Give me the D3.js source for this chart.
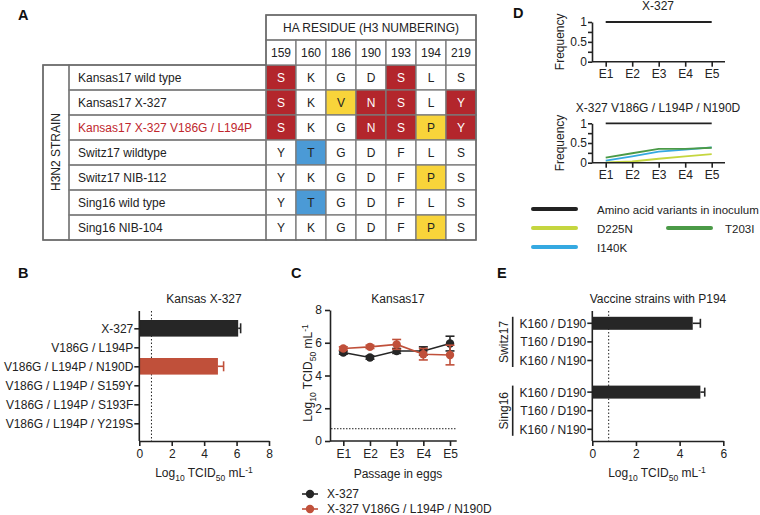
<!DOCTYPE html>
<html>
<head>
<meta charset="utf-8">
<script src="https://cdn.jsdelivr.net/npm/d3@7"></script>
<style>
  body { margin: 0; background: #fff; }
  svg { font-family: "Liberation Sans", Arial, sans-serif; }
  .tick text { font-family: "Liberation Sans", Arial, sans-serif; font-size: 12px; fill: #222; }
</style>
</head>
<body>
<div id="chart"></div>
<script>
// ---- data ----
// panel A : residue table
const residues = ["159", "160", "186", "190", "193", "194", "219"];
const strains = ["Kansas17 wild type", "Kansas17 X-327", "Kansas17 X-327 V186G / L194P",
  "Switz17 wildtype", "Switz17 NIB-112", "Sing16 wild type", "Sing16 NIB-104"];
const aminoAcids = [
  ["S", "K", "G", "D", "S", "L", "S"],
  ["S", "K", "V", "N", "S", "L", "Y"],
  ["S", "K", "G", "N", "S", "P", "Y"],
  ["Y", "T", "G", "D", "F", "L", "S"],
  ["Y", "K", "G", "D", "F", "P", "S"],
  ["Y", "T", "G", "D", "F", "L", "S"],
  ["Y", "K", "G", "D", "F", "P", "S"]
];
// r = red, y = yellow, b = blue, "" = none
const cellShade = [
  ["r", "", "", "", "r", "", ""],
  ["r", "", "y", "r", "r", "", "r"],
  ["r", "", "", "r", "r", "y", "r"],
  ["", "b", "", "", "", "", ""],
  ["", "", "", "", "", "y", ""],
  ["", "b", "", "", "", "", ""],
  ["", "", "", "", "", "y", ""]
];

// panel B
const bMutants = ["X-327", "V186G / L194P", "V186G / L194P / N190D", "V186G / L194P / S159Y",
  "V186G / L194P / S193F", "V186G / L194P / Y219S"];
const bTiter = [6.1, null, 4.85, null, null, null];
const bErr = [0.15, null, 0.35, null, null, null];
const detectLimit = 0.75;

// panel C
const passages = ["E1", "E2", "E3", "E4", "E5"];
const cX327 = [5.4, 5.1, 5.5, 5.5, 5.95];
const cX327Err = [0.1, 0.1, 0.15, 0.25, 0.45];
const cMut = [5.65, 5.75, 5.9, 5.3, 5.25];
const cMutErr = [0.1, 0.1, 0.3, 0.35, 0.6];

// panel D
const dInoculum = [1, 1, 1, 1, 1];
const dD225N = [0.01, 0.03, 0.1, 0.16, 0.22];
const dT203I = [0.13, 0.24, 0.35, 0.35, 0.38];
const dI140K = [0.05, 0.16, 0.28, 0.33, 0.39];

// panel E
const eGroups = ["Switz17", "Sing16"];
const eLabels = ["K160 / D190", "T160 / D190", "K160 / N190"];
const eTiter = [[4.6, null, null], [4.95, null, null]];
const eErr = [[0.35, null, null], [0.2, null, null]];

// ---- drawing ----
const W = 760, H = 515;
const red = "#c0503a", dark = "#262626";
const FS = 12;
const svg = d3.select("#chart").append("svg")
  .attr("width", W).attr("height", H);

function panelLetter(t, x, y) {
  svg.append("text").text(t).attr("x", x).attr("y", y)
    .attr("font-size", 14.5).attr("font-weight", "bold").attr("fill", "#111");
}
function titerLabel(g, x, y, rotate) {
  const t = g.append("text").attr("font-size", FS).attr("fill", "#222")
    .attr("text-anchor", "middle")
    .attr("transform", `translate(${x},${y})` + (rotate ? " rotate(-90)" : ""));
  t.append("tspan").text("Log");
  t.append("tspan").text("10").attr("font-size", 8.5).attr("dy", 3.5);
  t.append("tspan").text(" TCID").attr("dy", -3.5);
  t.append("tspan").text("50").attr("font-size", 8.5).attr("dy", 3.5);
  t.append("tspan").text(" mL").attr("dy", -3.5);
  t.append("tspan").text("-1").attr("font-size", 8.5).attr("dy", -4.5);
}
function styleAxis(g) {
  g.selectAll(".domain, .tick line").attr("stroke", "#222").attr("stroke-width", 1.6);
}

// ---- panel A ----
panelLetter("A", 18, 20);
const tbl = svg.append("g");
const colX = d3.scaleBand().domain(residues).range([266, 476]);
const rowY = d3.scaleBand().domain(strains).range([65, 240]);
const shadeColor = { r: "#b3262c", y: "#f8d43a", b: "#4b9ad6" };
const gridC = "#7a7a7a";

strains.forEach((s, i) => {
  residues.forEach((r, j) => {
    const sh = cellShade[i][j];
    tbl.append("rect").attr("x", colX(r)).attr("y", rowY(s))
      .attr("width", colX.bandwidth()).attr("height", rowY.bandwidth())
      .attr("fill", sh ? shadeColor[sh] : "#fff")
      .attr("stroke", gridC).attr("stroke-width", 1.3);
    tbl.append("text").text(aminoAcids[i][j])
      .attr("x", colX(r) + colX.bandwidth() / 2).attr("y", rowY(s) + rowY.bandwidth() / 2 + 4.5)
      .attr("text-anchor", "middle").attr("font-size", FS)
      .attr("fill", sh === "r" ? "#fff" : "#222");
  });
  tbl.append("rect").attr("x", 69).attr("y", rowY(s)).attr("width", 266 - 69)
    .attr("height", rowY.bandwidth()).attr("fill", "none")
    .attr("stroke", gridC).attr("stroke-width", 1.3);
  tbl.append("text").text(s).attr("x", 78).attr("y", rowY(s) + rowY.bandwidth() / 2 + 4.5)
    .attr("font-size", FS).attr("fill", i === 2 ? "#c0272d" : "#222");
});
residues.forEach(r => {
  tbl.append("rect").attr("x", colX(r)).attr("y", 40).attr("width", colX.bandwidth())
    .attr("height", 25).attr("fill", "#fff").attr("stroke", gridC).attr("stroke-width", 1.3);
  tbl.append("text").text(r).attr("x", colX(r) + colX.bandwidth() / 2).attr("y", 57)
    .attr("text-anchor", "middle").attr("font-size", FS).attr("fill", "#222");
});
tbl.append("rect").attr("x", 266).attr("y", 15).attr("width", 210).attr("height", 25)
  .attr("fill", "none").attr("stroke", gridC).attr("stroke-width", 1.3);
tbl.append("text").text("HA RESIDUE (H3 NUMBERING)").attr("x", 371).attr("y", 32)
  .attr("text-anchor", "middle").attr("font-size", FS).attr("fill", "#222");
tbl.append("rect").attr("x", 43).attr("y", 65).attr("width", 26).attr("height", 175)
  .attr("fill", "none").attr("stroke", gridC).attr("stroke-width", 1.3);
tbl.append("text").text("H3N2 STRAIN").attr("font-size", FS).attr("fill", "#222")
  .attr("text-anchor", "middle").attr("transform", "translate(60,152) rotate(-90)");
tbl.append("path").attr("d", "M43,240V65H266V15H476V240Z")
  .attr("fill", "none").attr("stroke", "#6a6a6a").attr("stroke-width", 1.5);

// ---- panel B ----
panelLetter("B", 18, 278);
const gB = svg.append("g");
const xB = d3.scaleLinear().domain([0, 8]).range([139.3, 269]);
const yB = d3.scalePoint().domain(bMutants).range([328.3, 423.3]);
gB.append("text").text("Kansas X-327").attr("x", 204).attr("y", 303)
  .attr("text-anchor", "middle").attr("font-size", FS).attr("fill", "#222");
gB.append("line").attr("x1", xB(detectLimit)).attr("x2", xB(detectLimit))
  .attr("y1", 311).attr("y2", 441).attr("stroke", "#222").attr("stroke-dasharray", "1.5,2");
bMutants.forEach((m, i) => {
  if (bTiter[i] == null) return;
  const c = i === 0 ? dark : red;
  gB.append("rect").attr("x", xB(0)).attr("y", yB(m) - 8.3)
    .attr("width", xB(bTiter[i]) - xB(0)).attr("height", 16.6).attr("fill", c);
  const xe = xB(bTiter[i] + bErr[i]);
  gB.append("line").attr("x1", xB(bTiter[i])).attr("x2", xe).attr("y1", yB(m)).attr("y2", yB(m))
    .attr("stroke", c).attr("stroke-width", 1.6);
  gB.append("line").attr("x1", xe).attr("x2", xe).attr("y1", yB(m) - 5).attr("y2", yB(m) + 5)
    .attr("stroke", c).attr("stroke-width", 1.6);
});
gB.append("g").attr("transform", "translate(0,441)")
  .call(d3.axisBottom(xB).tickValues([0, 2, 4, 6, 8]).tickFormat(d3.format("d")).tickSize(5).tickSizeOuter(0))
  .call(styleAxis);
const yAxB = gB.append("g").attr("transform", "translate(139.3,0)")
  .call(d3.axisLeft(yB).tickSize(5).tickPadding(1));
yAxB.select(".domain").attr("d", "M0,311V441");
yAxB.call(styleAxis);
titerLabel(gB, 204, 477, false);

// ---- panel C ----
panelLetter("C", 291, 278);
const gC = svg.append("g");
const xC = d3.scalePoint().domain(passages).range([343.3, 450]);
const yC = d3.scaleLinear().domain([0, 8]).range([441, 310]);
gC.append("text").text("Kansas17").attr("x", 398).attr("y", 303)
  .attr("text-anchor", "middle").attr("font-size", FS).attr("fill", "#222");
gC.append("line").attr("x1", 331).attr("x2", 456).attr("y1", yC(detectLimit)).attr("y2", yC(detectLimit))
  .attr("stroke", "#222").attr("stroke-dasharray", "1.5,1.5");
const lineC = d3.line().x((d, i) => xC(passages[i])).y(d => yC(d));
[[cX327, cX327Err, dark], [cMut, cMutErr, red]].forEach(([vals, errs, c]) => {
  gC.append("path").datum(vals).attr("d", lineC).attr("fill", "none")
    .attr("stroke", c).attr("stroke-width", 1.6);
  vals.forEach((v, i) => {
    const x = xC(passages[i]);
    gC.append("line").attr("x1", x).attr("x2", x).attr("y1", yC(v - errs[i])).attr("y2", yC(v + errs[i]))
      .attr("stroke", c).attr("stroke-width", 1.6);
    [v - errs[i], v + errs[i]].forEach(e => {
      gC.append("line").attr("x1", x - 4.5).attr("x2", x + 4.5).attr("y1", yC(e)).attr("y2", yC(e))
        .attr("stroke", c).attr("stroke-width", 1.6);
    });
    gC.append("circle").attr("cx", x).attr("cy", yC(v)).attr("r", 4.2).attr("fill", c);
  });
});
const xAxC = gC.append("g").attr("transform", "translate(0,441)")
  .call(d3.axisBottom(xC).tickSize(5));
xAxC.select(".domain").attr("d", "M330,0H456.7");
xAxC.call(styleAxis);
gC.append("g").attr("transform", "translate(330,0)")
  .call(d3.axisLeft(yC).tickValues([0, 2, 4, 6, 8]).tickFormat(d3.format("d")).tickSize(5).tickSizeOuter(0))
  .call(styleAxis);
gC.append("text").text("Passage in eggs").attr("x", 398).attr("y", 478)
  .attr("text-anchor", "middle").attr("font-size", FS).attr("fill", "#222");
titerLabel(gC, 312, 373, true);
// legend
[["X-327", dark, 494], ["X-327 V186G / L194P / N190D", red, 509]].forEach(([t, c, y]) => {
  gC.append("line").attr("x1", 302).attr("x2", 318).attr("y1", y).attr("y2", y)
    .attr("stroke", c).attr("stroke-width", 1.6);
  gC.append("circle").attr("cx", 310).attr("cy", y).attr("r", 4.2).attr("fill", c);
  gC.append("text").text(t).attr("x", 327).attr("y", y + 4.3)
    .attr("font-size", FS).attr("fill", "#222");
});

// ---- panel D ----
panelLetter("D", 513, 18);
const gD = svg.append("g");
const xD = d3.scalePoint().domain(passages).range([605.7, 711.7]);
const colD = { ino: "#222", d225: "#c5d63f", t203: "#4b9a47", i140: "#35a9e1" };
function freqChart(top, bottom, titleY, title, series) {
  const y = d3.scaleLinear().domain([0, 1]).range([bottom, top]);
  gD.append("text").text(title).attr("x", 658).attr("y", titleY)
    .attr("text-anchor", "middle").attr("font-size", FS).attr("fill", "#222");
  const ln = d3.line().x((d, i) => xD(passages[i])).y(d => y(d));
  series.forEach(([vals, c]) => {
    gD.append("path").datum(vals).attr("d", ln).attr("fill", "none")
      .attr("stroke", c).attr("stroke-width", 1.8);
  });
  const xa = gD.append("g").attr("transform", `translate(0,${bottom})`)
    .call(d3.axisBottom(xD).tickSize(5));
  xa.select(".domain").attr("d", "M592,0H725");
  xa.call(styleAxis);
  const ya = gD.append("g").attr("transform", "translate(592,0)")
    .call(d3.axisLeft(y).tickValues([0, 0.25, 0.5, 0.75, 1]).tickSize(4).tickPadding(1).tickSizeOuter(0)
      .tickFormat(d => (d === 0.25 || d === 0.75) ? "" : d));
  ya.call(styleAxis);
  gD.append("text").text("Frequency").attr("font-size", FS).attr("fill", "#222")
    .attr("text-anchor", "middle")
    .attr("transform", `translate(564,${(top + bottom) / 2}) rotate(-90)`);
}
freqChart(22, 61.7, 10, "X-327", [[dInoculum, colD.ino]]);
freqChart(123.3, 162.7, 112, "X-327 V186G / L194P / N190D",
  [[dD225N, colD.d225], [dI140K, colD.i140], [dT203I, colD.t203], [dInoculum, colD.ino]]);
// legend
[["Amino acid variants in inoculum", colD.ino, 533, 597, 209],
 ["D225N", colD.d225, 533, 597, 228], ["T203I", colD.t203, 668, 725, 228],
 ["I140K", colD.i140, 533, 597, 247]].forEach(([t, c, x, tx, y]) => {
  gD.append("line").attr("x1", x).attr("x2", x + 43).attr("y1", y).attr("y2", y)
    .attr("stroke", c).attr("stroke-width", 4).attr("stroke-linecap", "round");
  gD.append("text").text(t).attr("x", tx).attr("y", y + 4.5)
    .attr("font-size", 11.5).attr("fill", "#222");
});

// ---- panel E ----
panelLetter("E", 497, 278);
const gE = svg.append("g");
const xE = d3.scaleLinear().domain([0, 6]).range([592.3, 723.3]);
const yE = d3.scaleLinear().domain([0, 5.7]).range([323.3, 429.3]);
const ePos = (g, i) => yE(i + g * 3.7);
gE.append("text").text("Vaccine strains with P194").attr("x", 658).attr("y", 303)
  .attr("text-anchor", "middle").attr("font-size", FS).attr("fill", "#222");
gE.append("line").attr("x1", xE(detectLimit)).attr("x2", xE(detectLimit))
  .attr("y1", 311).attr("y2", 441).attr("stroke", "#222").attr("stroke-dasharray", "1.5,2");
eGroups.forEach((grp, g) => {
  eLabels.forEach((lab, i) => {
    const y = ePos(g, i);
    gE.append("line").attr("x1", xE(0) - 5).attr("x2", xE(0)).attr("y1", y).attr("y2", y)
      .attr("stroke", "#222").attr("stroke-width", 1.6);
    gE.append("text").text(lab).attr("x", xE(0) - 6).attr("y", y + 4.5)
      .attr("text-anchor", "end").attr("font-size", FS).attr("fill", "#222");
    if (eTiter[g][i] == null) return;
    gE.append("rect").attr("x", xE(0)).attr("y", y - 6.5)
      .attr("width", xE(eTiter[g][i]) - xE(0)).attr("height", 13).attr("fill", dark);
    const xe = xE(eTiter[g][i] + eErr[g][i]);
    gE.append("line").attr("x1", xE(eTiter[g][i])).attr("x2", xe).attr("y1", y).attr("y2", y)
      .attr("stroke", dark).attr("stroke-width", 1.6);
    gE.append("line").attr("x1", xe).attr("x2", xe).attr("y1", y - 4.5).attr("y2", y + 4.5)
      .attr("stroke", dark).attr("stroke-width", 1.6);
  });
  const y0 = ePos(g, 0) - 6.5, y1 = ePos(g, 2) + 6.5;
  gE.append("line").attr("x1", 512.7).attr("x2", 512.7).attr("y1", y0).attr("y2", y1)
    .attr("stroke", "#222").attr("stroke-width", 1.6);
  gE.append("text").text(grp).attr("font-size", FS).attr("fill", "#222")
    .attr("text-anchor", "middle")
    .attr("transform", `translate(508,${(y0 + y1) / 2}) rotate(-90)`);
});
gE.append("line").attr("x1", xE(0)).attr("x2", xE(0)).attr("y1", 311).attr("y2", 441)
  .attr("stroke", "#222").attr("stroke-width", 1.6);
gE.append("g").attr("transform", "translate(0,441)")
  .call(d3.axisBottom(xE).tickValues([0, 2, 4, 6]).tickFormat(d3.format("d")).tickSize(5).tickSizeOuter(0))
  .call(styleAxis);
titerLabel(gE, 657, 477, false);
</script>
</body>
</html>
